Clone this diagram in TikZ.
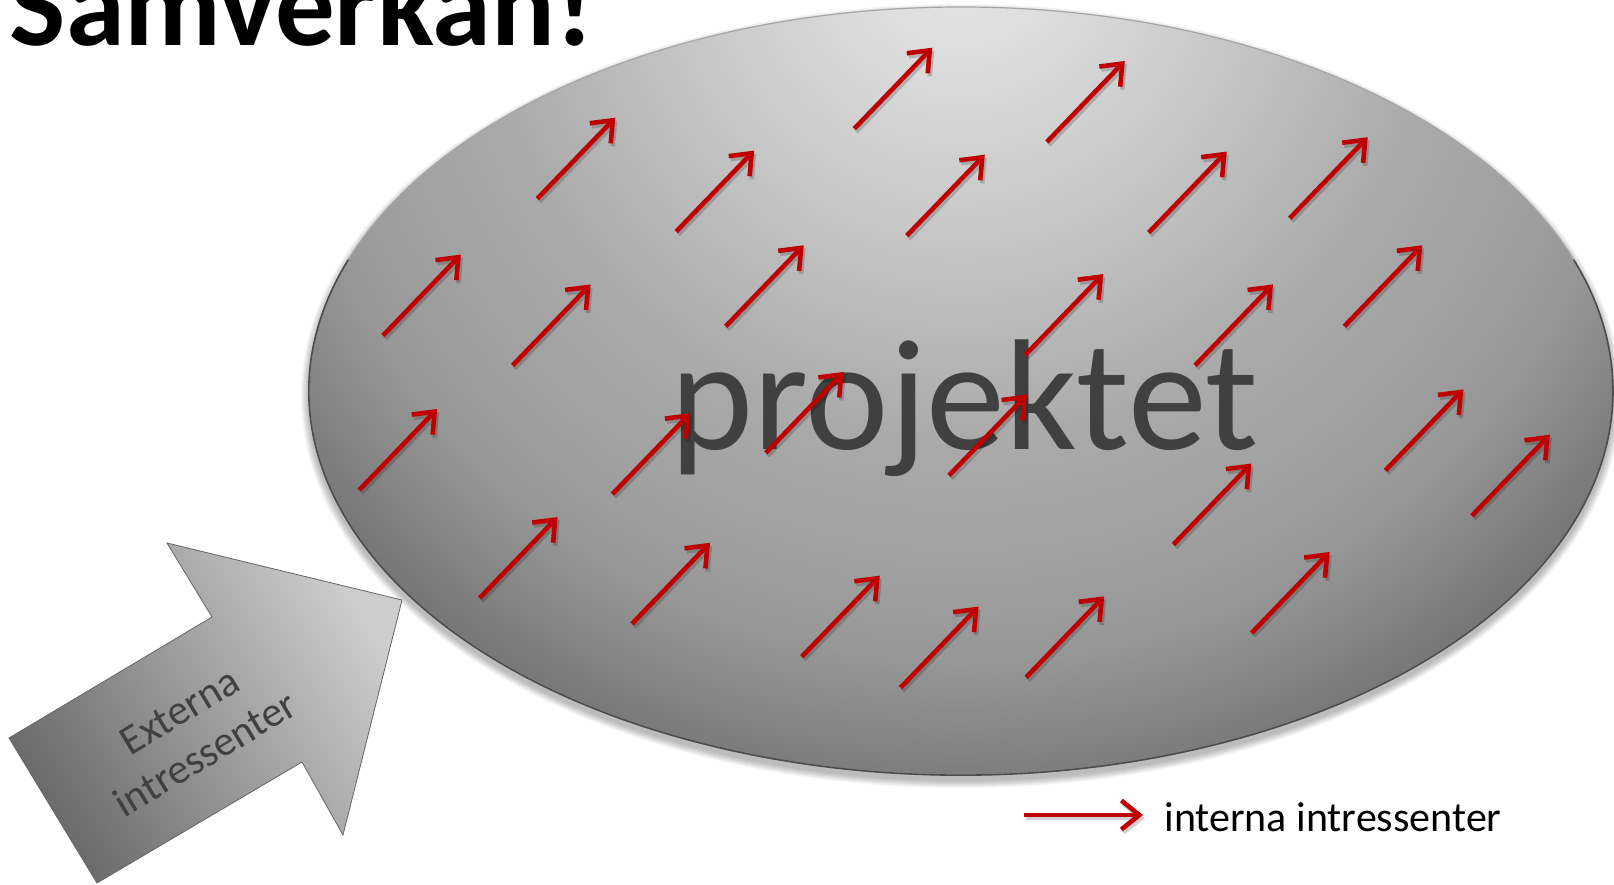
\documentclass[tikz,border=0pt]{standalone}
\usepackage{fontspec}
\setmainfont{Carlito}
\usetikzlibrary{arrows.meta}
\definecolor{arrred}{HTML}{C00000}
\definecolor{projgray}{HTML}{404040}
\definecolor{sh0}{HTML}{E6E6E6}
\definecolor{sh1}{HTML}{DFDFDF}
\definecolor{sh2}{HTML}{C8C8C8}
\definecolor{sh3}{HTML}{AAAAAA}
\definecolor{sh4}{HTML}{A0A0A0}
\definecolor{sh5}{HTML}{979797}
\definecolor{sh6}{HTML}{767676}
\definecolor{sh7}{HTML}{666666}
\definecolor{arrlight}{HTML}{CDCDCD}
\definecolor{arrmid}{HTML}{9A9A9A}
\definecolor{arrdark}{HTML}{6A6A6A}
\pgfdeclareradialshading{ellshade}{\pgfpoint{0bp}{0bp}}{color(0bp)=(sh0); color(2.73bp)=(sh1); color(8.03bp)=(sh2); color(14.17bp)=(sh3); color(17.94bp)=(sh4); color(20.4bp)=(sh5); color(24.7bp)=(sh6); color(27.2bp)=(sh7); color(50bp)=(sh7)}
\begin{document}
\begin{tikzpicture}[x=1pt,y=1pt,
  smallarr/.style={draw=arrred,line width=4.6pt,-{Straight Barb[length=18pt,width=29pt]}},
  smallshadow/.style={draw=black,opacity=0.18,line width=4.6pt,-{Straight Barb[length=18pt,width=29pt]}},
  bigtext/.style={inner sep=0pt,anchor=base}]
\useasboundingbox (0,0) rectangle (1614,-885);
\fill[white] (0,0) rectangle (1614,-885);
\begin{scope}
\clip (0,0) rectangle (1614,-885);
% soft shadow of the ellipse
\foreach \i in {1,...,8}{
  \pgfmathsetmacro{\rx}{652+\i}
  \pgfmathsetmacro{\ry}{384+\i}
  \fill[black,opacity=0.035] (961,-396) ellipse [x radius=\rx, y radius=\ry];
}
% ellipse body
\begin{scope}
\clip (961,-391) ellipse [x radius=652, y radius=384];
\shade[shading=ellshade] (110,940) rectangle (1810,-820);
\end{scope}
\draw[draw=gray!70,line width=1.2pt] (961,-391) ellipse [x radius=652, y radius=384];
\draw[draw=black!70,line width=1.6pt] (348.3,-259.7) arc [start angle=160, end angle=380, x radius=652, y radius=384];
% title
\node[bigtext,font=\fontsize{119}{134}\selectfont\bfseries] (title) at (302,-46) {Samverkan!};
% project label
\node[bigtext,font=\fontsize{158}{180}\selectfont,text=projgray] (proj) at (964.5,-449) {projektet};
% internal arrows
\foreach \tx/\ty in {854.3/128.7, 1046.8/142.0, 537.3/198.7, 676.2/231.6, 906.8/235.7, 1148.7/232.6, 1289.7/218.2,
  382.9/335.6, 512.6/365.4, 725.7/326.3, 1025.2/355.1, 1195.0/365.4, 1344.3/326.3,
  359.2/490.0, 612.4/494.1, 765.8/452.9, 949.0/475.5, 1385.4/470.4, 1471.9/515.7,
  479.7/598.0, 632.0/623.8, 1173.4/544.5, 801.8/656.7, 900.6/687.6, 1026.2/677.3, 1251.6/633.0}{
  \draw[smallshadow] (\tx+2,-\ty-3) -- ++(78,81);
  \draw[smallarr] (\tx,-\ty) -- ++(78,81);
}
% external arrow
\shade[top color=arrlight, middle color=arrmid, bottom color=arrdark, shading angle=-59,
  draw=gray!80!black, line width=0.8pt]
  (9,-738) -- (212,-617) -- (167,-543) -- (402,-600) -- (343,-835) -- (302,-762) -- (97,-883) -- cycle;
\node[inner sep=0pt,align=center,rotate=31,text=projgray,font=\fontsize{42}{50}\selectfont] (ext) at (192.5,-732.5) {Externa\\intressenter};
% legend
\coordinate (la) at (1024,-815);
\coordinate (lb) at (1143,-815);
\coordinate (las) at (1026,-818);
\coordinate (lbs) at (1145,-818);
\draw[smallshadow] (las) -- (lbs);
\draw[smallarr] (la) -- (lb);
\node[bigtext,font=\fontsize{42}{50}\selectfont] (leg) at (1333,-831) {interna intressenter};
\end{scope}
\end{tikzpicture}
\end{document}
